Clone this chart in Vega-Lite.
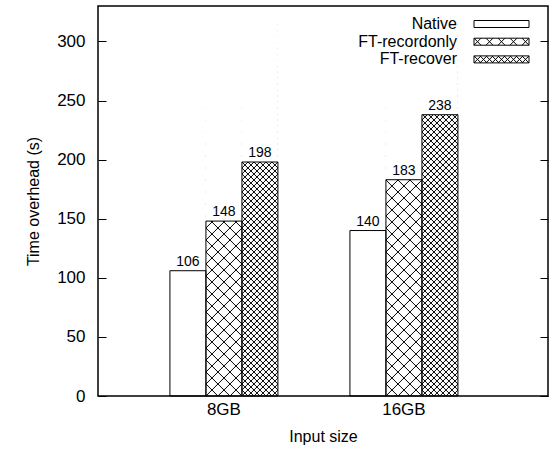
{
  "$schema": "https://vega.github.io/schema/vega-lite/v6.json",
  "autosize": "none",
  "width": 450,
  "height": 390,
  "padding": {"left": 98, "top": 6, "right": 2, "bottom": 54},
  "background": "white",
  "config": {
    "font": "Liberation Sans",
    "view": {"stroke": "black", "strokeWidth": 1.5},
    "axis": {"labelColor": "black", "titleColor": "black", "titleFontWeight": "normal", "grid": false, "domain": false, "tickColor": "black"}
  },
  "data": {
    "values": [
      {"size": "8GB", "series": "Native", "value": 106},
      {"size": "8GB", "series": "FT-recordonly", "value": 148},
      {"size": "8GB", "series": "FT-recover", "value": 198},
      {"size": "16GB", "series": "Native", "value": 140},
      {"size": "16GB", "series": "FT-recordonly", "value": 183},
      {"size": "16GB", "series": "FT-recover", "value": 238}
    ]
  },
  "encoding": {
    "x": {
      "field": "size", "type": "nominal", "sort": ["8GB", "16GB"],
      "scale": {"paddingInner": 0.4, "paddingOuter": 0.45, "align": 0.444},
      "axis": {"title": "Input size", "labelAngle": 0, "ticks": false, "labelPadding": 5, "titlePadding": 11, "labelFontSize": 17, "titleFontSize": 16}
    },
    "xOffset": {
      "field": "series", "type": "nominal", "sort": ["Native", "FT-recordonly", "FT-recover"],
      "scale": {"paddingInner": 0, "paddingOuter": 0}
    },
    "y": {
      "field": "value", "type": "quantitative",
      "scale": {"domain": [0, 330], "nice": false},
      "axis": {"title": "Time overhead (s)", "values": [0, 50, 100, 150, 200, 250, 300], "tickSize": -8, "labelPadding": 21, "titlePadding": 15, "labelFontSize": 17, "titleFontSize": 16}
    }
  },
  "layer": [
    {
      "resolve": {"scale": {"shape": "independent"}},
      "layer": [
        {
          "transform": [{"filter": "datum.series !== 'Native'"}],
          "mark": {"type": "point", "clip": true, "filled": false, "color": "black", "strokeWidth": 1, "size": 4, "opacity": 1},
          "encoding": {
            "y": {
              "datum": 0, "type": "quantitative",
              "axis": {"title": "Time overhead (s)", "values": [0, 50, 100, 150, 200, 250, 300], "tickSize": -8, "labelPadding": 21, "titlePadding": 15, "labelFontSize": 17, "titleFontSize": 16}
            },
            "shape": {
              "field": "series", "type": "nominal", "legend": null,
              "scale": {
                "domain": ["FT-recordonly", "FT-recover"],
                "range": [
                  "M-18 36l36 -36m-36 24l36 -36m-36 24l36 -36m-36 24l36 -36m-36 24l36 -36m-36 24l36 -36m-36 24l36 -36m-36 24l36 -36m-36 24l36 -36m-36 24l36 -36m-36 24l36 -36m-36 24l36 -36m-36 24l36 -36m-36 24l36 -36m-36 24l36 -36m-36 24l36 -36m-36 24l36 -36m-36 24l36 -36m-36 24l36 -36m-36 24l36 -36m-36 24l36 -36m-36 24l36 -36m-36 24l36 -36m-36 24l36 -36m-36 24l36 -36m-36 24M-18 0l36 36m-36 -48l36 36m-36 -48l36 36m-36 -48l36 36m-36 -48l36 36m-36 -48l36 36m-36 -48l36 36m-36 -48l36 36m-36 -48l36 36m-36 -48l36 36m-36 -48l36 36m-36 -48l36 36m-36 -48l36 36m-36 -48l36 36m-36 -48l36 36m-36 -48l36 36m-36 -48l36 36m-36 -48l36 36m-36 -48l36 36m-36 -48l36 36m-36 -48l36 36m-36 -48l36 36m-36 -48l36 36m-36 -48l36 36m-36 -48l36 36m-36 -48",
                  "M-18 36l36 -36m-36 30l36 -36m-36 30l36 -36m-36 30l36 -36m-36 30l36 -36m-36 30l36 -36m-36 30l36 -36m-36 30l36 -36m-36 30l36 -36m-36 30l36 -36m-36 30l36 -36m-36 30l36 -36m-36 30l36 -36m-36 30l36 -36m-36 30l36 -36m-36 30l36 -36m-36 30l36 -36m-36 30l36 -36m-36 30l36 -36m-36 30l36 -36m-36 30l36 -36m-36 30l36 -36m-36 30l36 -36m-36 30l36 -36m-36 30l36 -36m-36 30l36 -36m-36 30l36 -36m-36 30l36 -36m-36 30l36 -36m-36 30l36 -36m-36 30l36 -36m-36 30l36 -36m-36 30l36 -36m-36 30l36 -36m-36 30l36 -36m-36 30l36 -36m-36 30l36 -36m-36 30l36 -36m-36 30l36 -36m-36 30l36 -36m-36 30l36 -36m-36 30l36 -36m-36 30l36 -36m-36 30l36 -36m-36 30l36 -36m-36 30l36 -36m-36 30l36 -36m-36 30l36 -36m-36 30l36 -36m-36 30l36 -36m-36 30l36 -36m-36 30l36 -36m-36 30l36 -36m-36 30l36 -36m-36 30l36 -36m-36 30l36 -36m-36 30l36 -36m-36 30l36 -36m-36 30l36 -36m-36 30l36 -36m-36 30l36 -36m-36 30l36 -36m-36 30l36 -36m-36 30M-18 0l36 36m-36 -42l36 36m-36 -42l36 36m-36 -42l36 36m-36 -42l36 36m-36 -42l36 36m-36 -42l36 36m-36 -42l36 36m-36 -42l36 36m-36 -42l36 36m-36 -42l36 36m-36 -42l36 36m-36 -42l36 36m-36 -42l36 36m-36 -42l36 36m-36 -42l36 36m-36 -42l36 36m-36 -42l36 36m-36 -42l36 36m-36 -42l36 36m-36 -42l36 36m-36 -42l36 36m-36 -42l36 36m-36 -42l36 36m-36 -42l36 36m-36 -42l36 36m-36 -42l36 36m-36 -42l36 36m-36 -42l36 36m-36 -42l36 36m-36 -42l36 36m-36 -42l36 36m-36 -42l36 36m-36 -42l36 36m-36 -42l36 36m-36 -42l36 36m-36 -42l36 36m-36 -42l36 36m-36 -42l36 36m-36 -42l36 36m-36 -42l36 36m-36 -42l36 36m-36 -42l36 36m-36 -42l36 36m-36 -42l36 36m-36 -42l36 36m-36 -42l36 36m-36 -42l36 36m-36 -42l36 36m-36 -42l36 36m-36 -42l36 36m-36 -42l36 36m-36 -42l36 36m-36 -42l36 36m-36 -42l36 36m-36 -42l36 36m-36 -42l36 36m-36 -42l36 36m-36 -42l36 36m-36 -42l36 36m-36 -42l36 36m-36 -42"
                ]
              }
            }
          }
        },
        {
          "transform": [{"filter": "datum.series !== 'Native'"}],
          "mark": {"type": "bar", "fill": "white", "strokeWidth": 0},
          "encoding": {"y2": {"datum": 320}}
        },
        {
          "mark": {"type": "bar", "fill": "transparent", "stroke": "black", "strokeWidth": 1}
        },
        {
          "mark": {"type": "point", "filled": false, "color": "black", "opacity": 0},
          "encoding": {
            "shape": {
              "field": "series", "type": "nominal", "sort": ["Native", "FT-recordonly", "FT-recover"],
              "scale": {
                "domain": ["Native", "FT-recordonly", "FT-recover"],
                "range": [
                  "M17 -3.5h55v7h-55z",
                  "M17 -3.5h55v7h-55zM17 3.5l7 -7M29 3.5l7 -7M41 3.5l7 -7M53 3.5l7 -7M65 3.5l7 -7M17 -3.5l7 7M29 -3.5l7 7M41 -3.5l7 7M53 -3.5l7 7M65 -3.5l7 7",
                  "M17 -3.5h55v7h-55zM17 3.5l7 -7M23 3.5l7 -7M29 3.5l7 -7M35 3.5l7 -7M41 3.5l7 -7M47 3.5l7 -7M53 3.5l7 -7M59 3.5l7 -7M65 3.5l7 -7M17 -3.5l7 7M23 -3.5l7 7M29 -3.5l7 7M35 -3.5l7 7M41 -3.5l7 7M47 -3.5l7 7M53 -3.5l7 7M59 -3.5l7 7M65 -3.5l7 7"
                ]
              },
              "legend": {
                "orient": "none", "legendX": 351, "legendY": 10, "title": null,
                "symbolSize": 4, "symbolStrokeWidth": 1, "symbolStrokeColor": "black", "symbolOpacity": 1,
                "labelFontSize": 16, "labelAlign": "right", "labelOffset": -8, "labelColor": "black",
                "rowPadding": 1.7, "padding": 0, "labelLimit": 0
              }
            }
          }
        }
      ]
    },
    {
      "mark": {"type": "text", "dy": -5, "baseline": "alphabetic", "fontSize": 14, "color": "black"},
      "encoding": {
        "text": {"field": "value", "type": "quantitative"},
        "y": {
          "field": "value", "type": "quantitative",
          "axis": {"orient": "right", "title": null, "labels": false, "values": [0, 50, 100, 150, 200, 250, 300], "tickSize": -8}
        }
      }
    }
  ],
  "resolve": {"axis": {"y": "independent"}}
}
